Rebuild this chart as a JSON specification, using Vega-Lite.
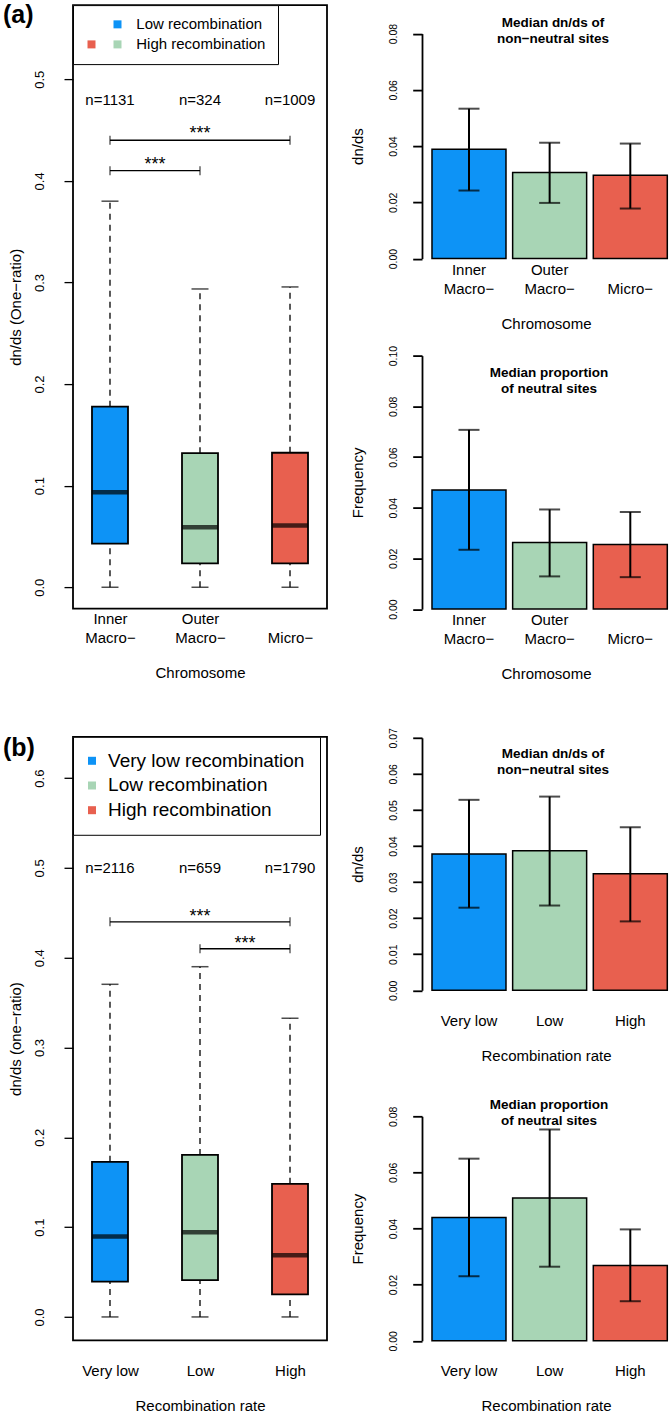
{
  "$schema": "https://vega.github.io/schema/vega-lite/v6.json",
  "autosize": {"type": "pad"},
  "padding": {"left": 2, "top": 1.1, "right": 0, "bottom": 0},
  "background": "white",
  "bounds": "flush",
  "spacing": 731.7,
  "resolve": {"scale": {"fill": "independent"}, "legend": {"fill": "independent"}},
  "config": {
    "font": "Liberation Sans",
    "view": {"stroke": null},
    "axis": {"labelColor": "black", "titleColor": "black", "tickColor": "black", "domainColor": "black", "grid": false, "titleFontWeight": "normal", "labelFont": "Liberation Sans", "titleFont": "Liberation Sans"},
    "title": {"font": "Liberation Sans", "color": "black"},
    "legend": {"labelFont": "Liberation Sans"},
    "text": {"font": "Liberation Sans"}
  },
  "datasets": {
    "boxA": [
      {"grp": "Inner Macro−", "n": 1131, "nlab": "n=1131", "lo": 0, "q1": 0.043, "med": 0.0936, "q3": 0.1777, "hi": 0.38},
      {"grp": "Outer Macro−", "n": 324, "nlab": "n=324", "lo": 0, "q1": 0.0236, "med": 0.0591, "q3": 0.132, "hi": 0.2936},
      {"grp": "Micro−", "n": 1009, "nlab": "n=1009", "lo": 0, "q1": 0.0236, "med": 0.0608, "q3": 0.1324, "hi": 0.2956}
    ],
    "boxB": [
      {"grp": "Very low", "n": 2116, "nlab": "n=2116", "lo": 0, "q1": 0.0393, "med": 0.0897, "q3": 0.1727, "hi": 0.3704},
      {"grp": "Low", "n": 659, "nlab": "n=659", "lo": 0, "q1": 0.0411, "med": 0.0944, "q3": 0.1804, "hi": 0.39},
      {"grp": "High", "n": 1790, "nlab": "n=1790", "lo": 0, "q1": 0.0252, "med": 0.0686, "q3": 0.1482, "hi": 0.3326}
    ],
    "barA1": [
      {"grp": "Inner Macro−", "val": 0.0389, "lo": 0.0242, "hi": 0.0533},
      {"grp": "Outer Macro−", "val": 0.0306, "lo": 0.0198, "hi": 0.0412},
      {"grp": "Micro−", "val": 0.0296, "lo": 0.0178, "hi": 0.0409}
    ],
    "barA2": [
      {"grp": "Inner Macro−", "val": 0.047, "lo": 0.0234, "hi": 0.0707},
      {"grp": "Outer Macro−", "val": 0.0263, "lo": 0.0129, "hi": 0.0393},
      {"grp": "Micro−", "val": 0.0255, "lo": 0.0126, "hi": 0.0383}
    ],
    "barB1": [
      {"grp": "Very low", "val": 0.0378, "lo": 0.0229, "hi": 0.0528},
      {"grp": "Low", "val": 0.0387, "lo": 0.0235, "hi": 0.0537},
      {"grp": "High", "val": 0.0323, "lo": 0.0191, "hi": 0.0452}
    ],
    "barB2": [
      {"grp": "Very low", "val": 0.0439, "lo": 0.023, "hi": 0.0649},
      {"grp": "Low", "val": 0.0509, "lo": 0.0264, "hi": 0.0753},
      {"grp": "High", "val": 0.0268, "lo": 0.0141, "hi": 0.0397}
    ]
  },
  "vconcat": [
    {
      "bounds": "flush",
      "spacing": 95,
      "resolve": {"scale": {"fill": "independent"}, "legend": {"fill": "independent"}},
      "hconcat": [
        {
          "width": 254, "height": 603.5,
          "view": {"stroke": "black", "strokeWidth": 1.8},
          "title": {"text": "(a)", "anchor": "start", "frame": "group", "orient": "top", "fontSize": 25, "fontWeight": "bold", "baseline": "alphabetic", "dx": -70, "offset": -43, "color": "black"},
          "data": {"name": "boxA"},
          "encoding": {
            "x": {"field": "grp", "type": "nominal", "sort": null, "title": "Chromosome",
              "scale": {"type": "point", "domain": ["Inner Macro−", "Outer Macro−", "Micro−"], "padding": 0.411},
              "axis": {"domain": false, "ticks": false, "tickSize": 0, "labelAngle": 0, "labelPadding": 2.5, "labelFontSize": 15, "labelLineHeight": 19.4, "labelBaseline": "top", "labelAlign": "center", "labelExpr": "indexof(datum.value, ' Macro') > 0 ? split(datum.value, ' ') : ['', datum.value]", "titlePadding": 20, "titleFontSize": 15}}
          },
          "layer": [
            {"mark": {"type": "rule", "color": "black", "strokeWidth": 1.3, "strokeDash": [6, 5]},
             "encoding": {"y": {"field": "q3", "type": "quantitative", "title": "dn/ds (One−ratio)", "scale": {"domain": [-0.021, 0.573], "nice": false, "zero": false},
               "axis": {"values": [0, 0.1, 0.2, 0.3, 0.4, 0.5], "format": ".1f", "domain": false, "tickSize": 9, "tickWidth": 1.3, "labelAngle": -90, "labelAlign": "center", "labelBaseline": "bottom", "labelPadding": 18, "labelFontSize": 13, "labelOverlap": false, "titleFontSize": 15, "titlePadding": 10}},
               "y2": {"field": "hi"}}},
            {"mark": {"type": "rule", "color": "black", "strokeWidth": 1.3, "strokeDash": [6, 5]},
             "encoding": {"y": {"field": "lo", "type": "quantitative", "title": "dn/ds (One−ratio)", "scale": {"domain": [-0.021, 0.573], "nice": false, "zero": false},
               "axis": {"values": [0, 0.1, 0.2, 0.3, 0.4, 0.5], "format": ".1f", "domain": false, "tickSize": 9, "tickWidth": 1.3, "labelAngle": -90, "labelAlign": "center", "labelBaseline": "bottom", "labelPadding": 18, "labelFontSize": 13, "labelOverlap": false, "titleFontSize": 15, "titlePadding": 10}},
               "y2": {"field": "q1"}}},
            {"mark": {"type": "tick", "color": "black", "size": 17, "thickness": 1.5},
             "encoding": {"y": {"field": "hi", "type": "quantitative", "title": "dn/ds (One−ratio)", "scale": {"domain": [-0.021, 0.573], "nice": false, "zero": false},
               "axis": {"values": [0, 0.1, 0.2, 0.3, 0.4, 0.5], "format": ".1f", "domain": false, "tickSize": 9, "tickWidth": 1.3, "labelAngle": -90, "labelAlign": "center", "labelBaseline": "bottom", "labelPadding": 18, "labelFontSize": 13, "labelOverlap": false, "titleFontSize": 15, "titlePadding": 10}}}},
            {"mark": {"type": "tick", "color": "black", "size": 17, "thickness": 1.5},
             "encoding": {"y": {"field": "lo", "type": "quantitative", "title": "dn/ds (One−ratio)", "scale": {"domain": [-0.021, 0.573], "nice": false, "zero": false},
               "axis": {"values": [0, 0.1, 0.2, 0.3, 0.4, 0.5], "format": ".1f", "domain": false, "tickSize": 9, "tickWidth": 1.3, "labelAngle": -90, "labelAlign": "center", "labelBaseline": "bottom", "labelPadding": 18, "labelFontSize": 13, "labelOverlap": false, "titleFontSize": 15, "titlePadding": 10}}}},
            {"mark": {"type": "bar", "width": 36, "stroke": "black", "strokeWidth": 1.8},
             "encoding": {
               "y": {"field": "q1", "type": "quantitative", "title": "dn/ds (One−ratio)", "scale": {"domain": [-0.021, 0.573], "nice": false, "zero": false},
                 "axis": {"values": [0, 0.1, 0.2, 0.3, 0.4, 0.5], "format": ".1f", "domain": false, "tickSize": 9, "tickWidth": 1.3, "labelAngle": -90, "labelAlign": "center", "labelBaseline": "bottom", "labelPadding": 18, "labelFontSize": 13, "labelOverlap": false, "titleFontSize": 15, "titlePadding": 10}},
               "y2": {"field": "q3"},
               "fill": {"field": "grp", "type": "nominal",
                 "scale": {"domain": ["Inner Macro−", "Outer Macro−", "Micro−", "blank"], "range": ["#0D93F6", "#A8D5B5", "#E8604F", "rgba(0,0,0,0)"]},
                 "legend": {"orient": "top-left", "offset": 0, "title": null, "columns": 2,
                   "values": ["blank", "Micro−", "Inner Macro−", "Outer Macro−"],
                   "labelExpr": "datum.value == 'Inner Macro−' ? 'Low recombination' : (datum.value == 'Outer Macro−' ? 'High recombination' : '')",
                   "labelFontSize": 15, "labelColor": "black", "labelOffset": 11.3, "labelLimit": 0,
                   "symbolType": "square", "symbolSize": 64, "symbolStrokeWidth": 0, "symbolOpacity": 1, "symbolOffset": -0.5,
                   "columnPadding": -23.8, "padding": 11.5, "rowPadding": 4.3, "strokeColor": "black", "fillColor": "white", "cornerRadius": 0}}}},
            {"mark": {"type": "tick", "color": "black", "size": 36, "thickness": 4.5},
             "encoding": {"y": {"field": "med", "type": "quantitative", "title": "dn/ds (One−ratio)", "scale": {"domain": [-0.021, 0.573], "nice": false, "zero": false},
               "axis": {"values": [0, 0.1, 0.2, 0.3, 0.4, 0.5], "format": ".1f", "domain": false, "tickSize": 9, "tickWidth": 1.3, "labelAngle": -90, "labelAlign": "center", "labelBaseline": "bottom", "labelPadding": 18, "labelFontSize": 13, "labelOverlap": false, "titleFontSize": 15, "titlePadding": 10}}}},
            {"mark": {"type": "text", "fontSize": 15, "color": "black", "align": "center", "baseline": "middle"},
             "encoding": {"y": {"datum": 0.48, "type": "quantitative", "title": "dn/ds (One−ratio)", "scale": {"domain": [-0.021, 0.573], "nice": false, "zero": false},
               "axis": {"values": [0, 0.1, 0.2, 0.3, 0.4, 0.5], "format": ".1f", "domain": false, "tickSize": 9, "tickWidth": 1.3, "labelAngle": -90, "labelAlign": "center", "labelBaseline": "bottom", "labelPadding": 18, "labelFontSize": 13, "labelOverlap": false, "titleFontSize": 15, "titlePadding": 10}},
               "text": {"field": "nlab"}}},
            {"data": {"values": [{"from": "Inner Macro−", "to": "Micro−", "mid": "Outer Macro−", "stars": "***"}]},
             "encoding": {"y": {"datum": 0.44, "type": "quantitative", "title": "dn/ds (One−ratio)", "scale": {"domain": [-0.021, 0.573], "nice": false, "zero": false},
               "axis": {"values": [0, 0.1, 0.2, 0.3, 0.4, 0.5], "format": ".1f", "domain": false, "tickSize": 9, "tickWidth": 1.3, "labelAngle": -90, "labelAlign": "center", "labelBaseline": "bottom", "labelPadding": 18, "labelFontSize": 13, "labelOverlap": false, "titleFontSize": 15, "titlePadding": 10}}},
             "layer": [
               {"mark": {"type": "rule", "color": "black", "strokeWidth": 1.3},
                "encoding": {"x": {"field": "from", "type": "nominal", "title": "Chromosome", "axis": {"domain": false, "ticks": false, "tickSize": 0, "labelAngle": 0, "labelPadding": 2.5, "labelFontSize": 15, "labelLineHeight": 19.4, "labelBaseline": "top", "labelAlign": "center", "labelExpr": "indexof(datum.value, ' Macro') > 0 ? split(datum.value, ' ') : ['', datum.value]", "titlePadding": 20, "titleFontSize": 15}}, "x2": {"field": "to"}}},
               {"mark": {"type": "tick", "orient": "vertical", "color": "black", "size": 9, "thickness": 1.3},
                "encoding": {"x": {"field": "from", "type": "nominal", "title": "Chromosome", "axis": {"domain": false, "ticks": false, "tickSize": 0, "labelAngle": 0, "labelPadding": 2.5, "labelFontSize": 15, "labelLineHeight": 19.4, "labelBaseline": "top", "labelAlign": "center", "labelExpr": "indexof(datum.value, ' Macro') > 0 ? split(datum.value, ' ') : ['', datum.value]", "titlePadding": 20, "titleFontSize": 15}}}},
               {"mark": {"type": "tick", "orient": "vertical", "color": "black", "size": 9, "thickness": 1.3},
                "encoding": {"x": {"field": "to", "type": "nominal", "title": "Chromosome", "axis": {"domain": false, "ticks": false, "tickSize": 0, "labelAngle": 0, "labelPadding": 2.5, "labelFontSize": 15, "labelLineHeight": 19.4, "labelBaseline": "top", "labelAlign": "center", "labelExpr": "indexof(datum.value, ' Macro') > 0 ? split(datum.value, ' ') : ['', datum.value]", "titlePadding": 20, "titleFontSize": 15}}}},
               {"mark": {"type": "text", "fontSize": 18, "color": "black", "align": "center", "baseline": "alphabetic", "dy": -1},
                "encoding": {"x": {"field": "mid", "type": "nominal", "title": "Chromosome", "axis": {"domain": false, "ticks": false, "tickSize": 0, "labelAngle": 0, "labelPadding": 2.5, "labelFontSize": 15, "labelLineHeight": 19.4, "labelBaseline": "top", "labelAlign": "center", "labelExpr": "indexof(datum.value, ' Macro') > 0 ? split(datum.value, ' ') : ['', datum.value]", "titlePadding": 20, "titleFontSize": 15}}, "text": {"field": "stars"}}}
             ]},
            {"data": {"values": [{"from": "Inner Macro−", "to": "Outer Macro−", "stars": "***"}]},
             "encoding": {"y": {"datum": 0.41, "type": "quantitative", "title": "dn/ds (One−ratio)", "scale": {"domain": [-0.021, 0.573], "nice": false, "zero": false},
               "axis": {"values": [0, 0.1, 0.2, 0.3, 0.4, 0.5], "format": ".1f", "domain": false, "tickSize": 9, "tickWidth": 1.3, "labelAngle": -90, "labelAlign": "center", "labelBaseline": "bottom", "labelPadding": 18, "labelFontSize": 13, "labelOverlap": false, "titleFontSize": 15, "titlePadding": 10}}},
             "layer": [
               {"mark": {"type": "rule", "color": "black", "strokeWidth": 1.3},
                "encoding": {"x": {"field": "from", "type": "nominal", "title": "Chromosome", "axis": {"domain": false, "ticks": false, "tickSize": 0, "labelAngle": 0, "labelPadding": 2.5, "labelFontSize": 15, "labelLineHeight": 19.4, "labelBaseline": "top", "labelAlign": "center", "labelExpr": "indexof(datum.value, ' Macro') > 0 ? split(datum.value, ' ') : ['', datum.value]", "titlePadding": 20, "titleFontSize": 15}}, "x2": {"field": "to"}}},
               {"mark": {"type": "tick", "orient": "vertical", "color": "black", "size": 9, "thickness": 1.3},
                "encoding": {"x": {"field": "from", "type": "nominal", "title": "Chromosome", "axis": {"domain": false, "ticks": false, "tickSize": 0, "labelAngle": 0, "labelPadding": 2.5, "labelFontSize": 15, "labelLineHeight": 19.4, "labelBaseline": "top", "labelAlign": "center", "labelExpr": "indexof(datum.value, ' Macro') > 0 ? split(datum.value, ' ') : ['', datum.value]", "titlePadding": 20, "titleFontSize": 15}}}},
               {"mark": {"type": "tick", "orient": "vertical", "color": "black", "size": 9, "thickness": 1.3},
                "encoding": {"x": {"field": "to", "type": "nominal", "title": "Chromosome", "axis": {"domain": false, "ticks": false, "tickSize": 0, "labelAngle": 0, "labelPadding": 2.5, "labelFontSize": 15, "labelLineHeight": 19.4, "labelBaseline": "top", "labelAlign": "center", "labelExpr": "indexof(datum.value, ' Macro') > 0 ? split(datum.value, ' ') : ['', datum.value]", "titlePadding": 20, "titleFontSize": 15}}}},
               {"mark": {"type": "text", "fontSize": 18, "color": "black", "align": "center", "baseline": "alphabetic", "dy": -1, "dx": 45},
                "encoding": {"x": {"field": "from", "type": "nominal", "title": "Chromosome", "axis": {"domain": false, "ticks": false, "tickSize": 0, "labelAngle": 0, "labelPadding": 2.5, "labelFontSize": 15, "labelLineHeight": 19.4, "labelBaseline": "top", "labelAlign": "center", "labelExpr": "indexof(datum.value, ' Macro') > 0 ? split(datum.value, ' ') : ['', datum.value]", "titlePadding": 20, "titleFontSize": 15}}, "text": {"field": "stars"}}}
             ]}
          ]
        },
        {
          "bounds": "flush",
          "spacing": 96.5,
          "resolve": {"scale": {"fill": "independent"}, "legend": {"fill": "independent"}},
          "vconcat": [
            {
              "width": 248, "height": 253.5,
              "title": {"text": ["Median dn/ds of", "non−neutral sites"], "frame": "group", "anchor": "middle", "orient": "top", "fontSize": 13.5, "fontWeight": "bold", "lineHeight": 16, "baseline": "top", "offset": -40.3, "dx": 7, "color": "black"},
              "data": {"name": "barA1"},
              "encoding": {
                "x": {"field": "grp", "type": "nominal", "sort": null, "title": "Chromosome",
                  "scale": {"type": "band", "domain": ["Inner Macro−", "Outer Macro−", "Micro−"], "paddingInner": 0.0825, "paddingOuter": 0.0787, "align": 0.787},
                  "axis": {"domain": false, "ticks": false, "tickSize": 0, "labelAngle": 0, "labelPadding": 3.5, "labelFontSize": 15, "labelLineHeight": 19.4, "labelBaseline": "top", "labelAlign": "center", "labelExpr": "indexof(datum.value, ' Macro') > 0 ? split(datum.value, ' ') : ['', datum.value]", "titlePadding": 20, "titleFontSize": 15}}
              },
              "layer": [
                {"mark": {"type": "bar", "stroke": "black", "strokeWidth": 1.5},
                 "encoding": {
                   "y": {"field": "val", "type": "quantitative", "title": "dn/ds", "scale": {"domain": [0, 0.08], "range": [253.5, 28.5], "nice": false},
                     "axis": {"values": [0, 0.02, 0.04, 0.06, 0.08], "format": ".2f", "domain": true, "domainWidth": 1.8, "tickSize": 9.3, "tickWidth": 1.8, "labelAngle": -90, "labelAlign": "center", "labelBaseline": "bottom", "labelPadding": 14, "labelFontSize": 10.5, "labelOverlap": false, "titleFontSize": 15, "titlePadding": 23}},
                   "fill": {"field": "grp", "type": "nominal", "scale": {"domain": ["Inner Macro−", "Outer Macro−", "Micro−"], "range": ["#0D93F6", "#A8D5B5", "#E8604F"]}, "legend": null}}},
                {"mark": {"type": "rule", "color": "black", "strokeWidth": 2},
                 "encoding": {"y": {"field": "lo", "type": "quantitative", "title": "dn/ds", "scale": {"domain": [0, 0.08], "range": [253.5, 28.5], "nice": false},
                     "axis": {"values": [0, 0.02, 0.04, 0.06, 0.08], "format": ".2f", "domain": true, "domainWidth": 1.8, "tickSize": 9.3, "tickWidth": 1.8, "labelAngle": -90, "labelAlign": "center", "labelBaseline": "bottom", "labelPadding": 14, "labelFontSize": 10.5, "labelOverlap": false, "titleFontSize": 15, "titlePadding": 23}}, "y2": {"field": "hi"}}},
                {"mark": {"type": "tick", "color": "black", "size": 21, "thickness": 2},
                 "encoding": {"y": {"field": "lo", "type": "quantitative", "title": "dn/ds", "scale": {"domain": [0, 0.08], "range": [253.5, 28.5], "nice": false},
                     "axis": {"values": [0, 0.02, 0.04, 0.06, 0.08], "format": ".2f", "domain": true, "domainWidth": 1.8, "tickSize": 9.3, "tickWidth": 1.8, "labelAngle": -90, "labelAlign": "center", "labelBaseline": "bottom", "labelPadding": 14, "labelFontSize": 10.5, "labelOverlap": false, "titleFontSize": 15, "titlePadding": 23}}}},
                {"mark": {"type": "tick", "color": "black", "size": 21, "thickness": 2},
                 "encoding": {"y": {"field": "hi", "type": "quantitative", "title": "dn/ds", "scale": {"domain": [0, 0.08], "range": [253.5, 28.5], "nice": false},
                     "axis": {"values": [0, 0.02, 0.04, 0.06, 0.08], "format": ".2f", "domain": true, "domainWidth": 1.8, "tickSize": 9.3, "tickWidth": 1.8, "labelAngle": -90, "labelAlign": "center", "labelBaseline": "bottom", "labelPadding": 14, "labelFontSize": 10.5, "labelOverlap": false, "titleFontSize": 15, "titlePadding": 23}}}}
              ]
            },
            {
              "width": 248, "height": 253.5,
              "title": {"text": ["Median proportion", "of neutral sites"], "frame": "group", "anchor": "middle", "orient": "top", "fontSize": 13.5, "fontWeight": "bold", "lineHeight": 16, "baseline": "top", "offset": -50, "dx": 3, "color": "black"},
              "data": {"name": "barA2"},
              "encoding": {
                "x": {"field": "grp", "type": "nominal", "sort": null, "title": "Chromosome",
                  "scale": {"type": "band", "domain": ["Inner Macro−", "Outer Macro−", "Micro−"], "paddingInner": 0.0825, "paddingOuter": 0.0787, "align": 0.787},
                  "axis": {"domain": false, "ticks": false, "tickSize": 0, "labelAngle": 0, "labelPadding": 3.5, "labelFontSize": 15, "labelLineHeight": 19.4, "labelBaseline": "top", "labelAlign": "center", "labelExpr": "indexof(datum.value, ' Macro') > 0 ? split(datum.value, ' ') : ['', datum.value]", "titlePadding": 20, "titleFontSize": 15}}
              },
              "layer": [
                {"mark": {"type": "bar", "stroke": "black", "strokeWidth": 1.5},
                 "encoding": {
                   "y": {"field": "val", "type": "quantitative", "title": "Frequency", "scale": {"domain": [0, 0.1], "range": [253.5, 0], "nice": false},
                     "axis": {"values": [0, 0.02, 0.04, 0.06, 0.08, 0.1], "format": ".2f", "domain": true, "domainWidth": 1.8, "tickSize": 9.3, "tickWidth": 1.8, "labelAngle": -90, "labelAlign": "center", "labelBaseline": "bottom", "labelPadding": 14, "labelFontSize": 10.5, "labelOverlap": false, "titleFontSize": 15, "titlePadding": 23}},
                   "fill": {"field": "grp", "type": "nominal", "scale": {"domain": ["Inner Macro−", "Outer Macro−", "Micro−"], "range": ["#0D93F6", "#A8D5B5", "#E8604F"]}, "legend": null}}},
                {"mark": {"type": "rule", "color": "black", "strokeWidth": 2},
                 "encoding": {"y": {"field": "lo", "type": "quantitative", "title": "Frequency", "scale": {"domain": [0, 0.1], "range": [253.5, 0], "nice": false},
                     "axis": {"values": [0, 0.02, 0.04, 0.06, 0.08, 0.1], "format": ".2f", "domain": true, "domainWidth": 1.8, "tickSize": 9.3, "tickWidth": 1.8, "labelAngle": -90, "labelAlign": "center", "labelBaseline": "bottom", "labelPadding": 14, "labelFontSize": 10.5, "labelOverlap": false, "titleFontSize": 15, "titlePadding": 23}}, "y2": {"field": "hi"}}},
                {"mark": {"type": "tick", "color": "black", "size": 21, "thickness": 2},
                 "encoding": {"y": {"field": "lo", "type": "quantitative", "title": "Frequency", "scale": {"domain": [0, 0.1], "range": [253.5, 0], "nice": false},
                     "axis": {"values": [0, 0.02, 0.04, 0.06, 0.08, 0.1], "format": ".2f", "domain": true, "domainWidth": 1.8, "tickSize": 9.3, "tickWidth": 1.8, "labelAngle": -90, "labelAlign": "center", "labelBaseline": "bottom", "labelPadding": 14, "labelFontSize": 10.5, "labelOverlap": false, "titleFontSize": 15, "titlePadding": 23}}}},
                {"mark": {"type": "tick", "color": "black", "size": 21, "thickness": 2},
                 "encoding": {"y": {"field": "hi", "type": "quantitative", "title": "Frequency", "scale": {"domain": [0, 0.1], "range": [253.5, 0], "nice": false},
                     "axis": {"values": [0, 0.02, 0.04, 0.06, 0.08, 0.1], "format": ".2f", "domain": true, "domainWidth": 1.8, "tickSize": 9.3, "tickWidth": 1.8, "labelAngle": -90, "labelAlign": "center", "labelBaseline": "bottom", "labelPadding": 14, "labelFontSize": 10.5, "labelOverlap": false, "titleFontSize": 15, "titlePadding": 23}}}}
              ]
            }
          ]
        }
      ]
    },
    {
      "bounds": "flush",
      "spacing": 95,
      "resolve": {"scale": {"fill": "independent"}, "legend": {"fill": "independent"}},
      "hconcat": [
        {
          "width": 254, "height": 603.5,
          "view": {"stroke": "black", "strokeWidth": 1.8},
          "title": {"text": "(b)", "anchor": "start", "frame": "group", "orient": "top", "fontSize": 25, "fontWeight": "bold", "baseline": "alphabetic", "dx": -70, "offset": -45, "color": "black"},
          "data": {"name": "boxB"},
          "encoding": {
            "x": {"field": "grp", "type": "nominal", "sort": null, "title": "Recombination rate",
              "scale": {"type": "point", "domain": ["Very low", "Low", "High"], "padding": 0.411},
              "axis": {"domain": false, "ticks": false, "tickSize": 0, "labelAngle": 0, "labelPadding": 3.5, "labelFontSize": 15, "labelLineHeight": 19.4, "labelBaseline": "top", "labelAlign": "center", "labelExpr": "indexof(datum.value, ' Macro') > 0 ? split(datum.value, ' ') : ['', datum.value]", "titlePadding": 20, "titleFontSize": 15}}
          },
          "layer": [
            {"mark": {"type": "rule", "color": "black", "strokeWidth": 1.3, "strokeDash": [6, 5]},
             "encoding": {"y": {"field": "q3", "type": "quantitative", "title": "dn/ds (one−ratio)", "scale": {"domain": [-0.026, 0.646], "nice": false, "zero": false},
               "axis": {"values": [0, 0.1, 0.2, 0.3, 0.4, 0.5, 0.6], "format": ".1f", "domain": false, "tickSize": 9, "tickWidth": 1.3, "labelAngle": -90, "labelAlign": "center", "labelBaseline": "bottom", "labelPadding": 18, "labelFontSize": 13, "labelOverlap": false, "titleFontSize": 15, "titlePadding": 10}},
               "y2": {"field": "hi"}}},
            {"mark": {"type": "rule", "color": "black", "strokeWidth": 1.3, "strokeDash": [6, 5]},
             "encoding": {"y": {"field": "lo", "type": "quantitative", "title": "dn/ds (one−ratio)", "scale": {"domain": [-0.026, 0.646], "nice": false, "zero": false},
               "axis": {"values": [0, 0.1, 0.2, 0.3, 0.4, 0.5, 0.6], "format": ".1f", "domain": false, "tickSize": 9, "tickWidth": 1.3, "labelAngle": -90, "labelAlign": "center", "labelBaseline": "bottom", "labelPadding": 18, "labelFontSize": 13, "labelOverlap": false, "titleFontSize": 15, "titlePadding": 10}},
               "y2": {"field": "q1"}}},
            {"mark": {"type": "tick", "color": "black", "size": 17, "thickness": 1.5},
             "encoding": {"y": {"field": "hi", "type": "quantitative", "title": "dn/ds (one−ratio)", "scale": {"domain": [-0.026, 0.646], "nice": false, "zero": false},
               "axis": {"values": [0, 0.1, 0.2, 0.3, 0.4, 0.5, 0.6], "format": ".1f", "domain": false, "tickSize": 9, "tickWidth": 1.3, "labelAngle": -90, "labelAlign": "center", "labelBaseline": "bottom", "labelPadding": 18, "labelFontSize": 13, "labelOverlap": false, "titleFontSize": 15, "titlePadding": 10}}}},
            {"mark": {"type": "tick", "color": "black", "size": 17, "thickness": 1.5},
             "encoding": {"y": {"field": "lo", "type": "quantitative", "title": "dn/ds (one−ratio)", "scale": {"domain": [-0.026, 0.646], "nice": false, "zero": false},
               "axis": {"values": [0, 0.1, 0.2, 0.3, 0.4, 0.5, 0.6], "format": ".1f", "domain": false, "tickSize": 9, "tickWidth": 1.3, "labelAngle": -90, "labelAlign": "center", "labelBaseline": "bottom", "labelPadding": 18, "labelFontSize": 13, "labelOverlap": false, "titleFontSize": 15, "titlePadding": 10}}}},
            {"mark": {"type": "bar", "width": 36, "stroke": "black", "strokeWidth": 1.8},
             "encoding": {
               "y": {"field": "q1", "type": "quantitative", "title": "dn/ds (one−ratio)", "scale": {"domain": [-0.026, 0.646], "nice": false, "zero": false},
                 "axis": {"values": [0, 0.1, 0.2, 0.3, 0.4, 0.5, 0.6], "format": ".1f", "domain": false, "tickSize": 9, "tickWidth": 1.3, "labelAngle": -90, "labelAlign": "center", "labelBaseline": "bottom", "labelPadding": 18, "labelFontSize": 13, "labelOverlap": false, "titleFontSize": 15, "titlePadding": 10}},
               "y2": {"field": "q3"},
               "fill": {"field": "grp", "type": "nominal",
                 "scale": {"domain": ["Very low", "Low", "High"], "range": ["#0D93F6", "#A8D5B5", "#E8604F"]},
                 "legend": {"orient": "top-left", "offset": 0, "title": null,
                   "labelExpr": "datum.value + ' recombination'",
                   "labelFontSize": 19, "labelColor": "black", "labelOffset": 6.6, "labelLimit": 0,
                   "symbolType": "square", "symbolSize": 64, "symbolStrokeWidth": 0, "symbolOpacity": 1, "symbolOffset": -5,
                   "padding": 14.5, "rowPadding": 4.7, "strokeColor": "black", "fillColor": "white", "cornerRadius": 0}}}},
            {"mark": {"type": "tick", "color": "black", "size": 36, "thickness": 4.5},
             "encoding": {"y": {"field": "med", "type": "quantitative", "title": "dn/ds (one−ratio)", "scale": {"domain": [-0.026, 0.646], "nice": false, "zero": false},
               "axis": {"values": [0, 0.1, 0.2, 0.3, 0.4, 0.5, 0.6], "format": ".1f", "domain": false, "tickSize": 9, "tickWidth": 1.3, "labelAngle": -90, "labelAlign": "center", "labelBaseline": "bottom", "labelPadding": 18, "labelFontSize": 13, "labelOverlap": false, "titleFontSize": 15, "titlePadding": 10}}}},
            {"mark": {"type": "text", "fontSize": 15, "color": "black", "align": "center", "baseline": "middle"},
             "encoding": {"y": {"datum": 0.5, "type": "quantitative", "title": "dn/ds (one−ratio)", "scale": {"domain": [-0.026, 0.646], "nice": false, "zero": false},
               "axis": {"values": [0, 0.1, 0.2, 0.3, 0.4, 0.5, 0.6], "format": ".1f", "domain": false, "tickSize": 9, "tickWidth": 1.3, "labelAngle": -90, "labelAlign": "center", "labelBaseline": "bottom", "labelPadding": 18, "labelFontSize": 13, "labelOverlap": false, "titleFontSize": 15, "titlePadding": 10}},
               "text": {"field": "nlab"}}},
            {"data": {"values": [{"from": "Very low", "to": "High", "mid": "Low", "stars": "***"}]},
             "encoding": {"y": {"datum": 0.44, "type": "quantitative", "title": "dn/ds (one−ratio)", "scale": {"domain": [-0.026, 0.646], "nice": false, "zero": false},
               "axis": {"values": [0, 0.1, 0.2, 0.3, 0.4, 0.5, 0.6], "format": ".1f", "domain": false, "tickSize": 9, "tickWidth": 1.3, "labelAngle": -90, "labelAlign": "center", "labelBaseline": "bottom", "labelPadding": 18, "labelFontSize": 13, "labelOverlap": false, "titleFontSize": 15, "titlePadding": 10}}},
             "layer": [
               {"mark": {"type": "rule", "color": "black", "strokeWidth": 1.3},
                "encoding": {"x": {"field": "from", "type": "nominal", "title": "Recombination rate", "axis": {"domain": false, "ticks": false, "tickSize": 0, "labelAngle": 0, "labelPadding": 3.5, "labelFontSize": 15, "labelLineHeight": 19.4, "labelBaseline": "top", "labelAlign": "center", "labelExpr": "indexof(datum.value, ' Macro') > 0 ? split(datum.value, ' ') : ['', datum.value]", "titlePadding": 20, "titleFontSize": 15}}, "x2": {"field": "to"}}},
               {"mark": {"type": "tick", "orient": "vertical", "color": "black", "size": 9, "thickness": 1.3},
                "encoding": {"x": {"field": "from", "type": "nominal", "title": "Recombination rate", "axis": {"domain": false, "ticks": false, "tickSize": 0, "labelAngle": 0, "labelPadding": 3.5, "labelFontSize": 15, "labelLineHeight": 19.4, "labelBaseline": "top", "labelAlign": "center", "labelExpr": "indexof(datum.value, ' Macro') > 0 ? split(datum.value, ' ') : ['', datum.value]", "titlePadding": 20, "titleFontSize": 15}}}},
               {"mark": {"type": "tick", "orient": "vertical", "color": "black", "size": 9, "thickness": 1.3},
                "encoding": {"x": {"field": "to", "type": "nominal", "title": "Recombination rate", "axis": {"domain": false, "ticks": false, "tickSize": 0, "labelAngle": 0, "labelPadding": 3.5, "labelFontSize": 15, "labelLineHeight": 19.4, "labelBaseline": "top", "labelAlign": "center", "labelExpr": "indexof(datum.value, ' Macro') > 0 ? split(datum.value, ' ') : ['', datum.value]", "titlePadding": 20, "titleFontSize": 15}}}},
               {"mark": {"type": "text", "fontSize": 18, "color": "black", "align": "center", "baseline": "alphabetic", "dy": 0},
                "encoding": {"x": {"field": "mid", "type": "nominal", "title": "Recombination rate", "axis": {"domain": false, "ticks": false, "tickSize": 0, "labelAngle": 0, "labelPadding": 3.5, "labelFontSize": 15, "labelLineHeight": 19.4, "labelBaseline": "top", "labelAlign": "center", "labelExpr": "indexof(datum.value, ' Macro') > 0 ? split(datum.value, ' ') : ['', datum.value]", "titlePadding": 20, "titleFontSize": 15}}, "text": {"field": "stars"}}}
             ]},
            {"data": {"values": [{"from": "Low", "to": "High", "stars": "***"}]},
             "encoding": {"y": {"datum": 0.41, "type": "quantitative", "title": "dn/ds (one−ratio)", "scale": {"domain": [-0.026, 0.646], "nice": false, "zero": false},
               "axis": {"values": [0, 0.1, 0.2, 0.3, 0.4, 0.5, 0.6], "format": ".1f", "domain": false, "tickSize": 9, "tickWidth": 1.3, "labelAngle": -90, "labelAlign": "center", "labelBaseline": "bottom", "labelPadding": 18, "labelFontSize": 13, "labelOverlap": false, "titleFontSize": 15, "titlePadding": 10}}},
             "layer": [
               {"mark": {"type": "rule", "color": "black", "strokeWidth": 1.3},
                "encoding": {"x": {"field": "from", "type": "nominal", "title": "Recombination rate", "axis": {"domain": false, "ticks": false, "tickSize": 0, "labelAngle": 0, "labelPadding": 3.5, "labelFontSize": 15, "labelLineHeight": 19.4, "labelBaseline": "top", "labelAlign": "center", "labelExpr": "indexof(datum.value, ' Macro') > 0 ? split(datum.value, ' ') : ['', datum.value]", "titlePadding": 20, "titleFontSize": 15}}, "x2": {"field": "to"}}},
               {"mark": {"type": "tick", "orient": "vertical", "color": "black", "size": 9, "thickness": 1.3},
                "encoding": {"x": {"field": "from", "type": "nominal", "title": "Recombination rate", "axis": {"domain": false, "ticks": false, "tickSize": 0, "labelAngle": 0, "labelPadding": 3.5, "labelFontSize": 15, "labelLineHeight": 19.4, "labelBaseline": "top", "labelAlign": "center", "labelExpr": "indexof(datum.value, ' Macro') > 0 ? split(datum.value, ' ') : ['', datum.value]", "titlePadding": 20, "titleFontSize": 15}}}},
               {"mark": {"type": "tick", "orient": "vertical", "color": "black", "size": 9, "thickness": 1.3},
                "encoding": {"x": {"field": "to", "type": "nominal", "title": "Recombination rate", "axis": {"domain": false, "ticks": false, "tickSize": 0, "labelAngle": 0, "labelPadding": 3.5, "labelFontSize": 15, "labelLineHeight": 19.4, "labelBaseline": "top", "labelAlign": "center", "labelExpr": "indexof(datum.value, ' Macro') > 0 ? split(datum.value, ' ') : ['', datum.value]", "titlePadding": 20, "titleFontSize": 15}}}},
               {"mark": {"type": "text", "fontSize": 18, "color": "black", "align": "center", "baseline": "alphabetic", "dy": 0, "dx": 45},
                "encoding": {"x": {"field": "from", "type": "nominal", "title": "Recombination rate", "axis": {"domain": false, "ticks": false, "tickSize": 0, "labelAngle": 0, "labelPadding": 3.5, "labelFontSize": 15, "labelLineHeight": 19.4, "labelBaseline": "top", "labelAlign": "center", "labelExpr": "indexof(datum.value, ' Macro') > 0 ? split(datum.value, ' ') : ['', datum.value]", "titlePadding": 20, "titleFontSize": 15}}, "text": {"field": "stars"}}}
             ]}
          ]
        },
        {
          "bounds": "flush",
          "spacing": 96.5,
          "resolve": {"scale": {"fill": "independent"}, "legend": {"fill": "independent"}},
          "vconcat": [
            {
              "width": 248, "height": 253.5,
              "title": {"text": ["Median dn/ds of", "non−neutral sites"], "frame": "group", "anchor": "middle", "orient": "top", "fontSize": 13.5, "fontWeight": "bold", "lineHeight": 16, "baseline": "top", "offset": -48.5, "dx": 7, "color": "black"},
              "data": {"name": "barB1"},
              "encoding": {
                "x": {"field": "grp", "type": "nominal", "sort": null, "title": "Recombination rate",
                  "scale": {"type": "band", "domain": ["Very low", "Low", "High"], "paddingInner": 0.0825, "paddingOuter": 0.0787, "align": 0.787},
                  "axis": {"domain": false, "ticks": false, "tickSize": 0, "labelAngle": 0, "labelPadding": 3.5, "labelFontSize": 15, "labelLineHeight": 19.4, "labelBaseline": "top", "labelAlign": "center", "labelExpr": "indexof(datum.value, ' Macro') > 0 ? split(datum.value, ' ') : ['', datum.value]", "titlePadding": 20, "titleFontSize": 15}}
              },
              "layer": [
                {"mark": {"type": "bar", "stroke": "black", "strokeWidth": 1.5},
                 "encoding": {
                   "y": {"field": "val", "type": "quantitative", "title": "dn/ds", "scale": {"domain": [0, 0.07], "range": [253.5, 1], "nice": false},
                     "axis": {"values": [0, 0.01, 0.02, 0.03, 0.04, 0.05, 0.06, 0.07], "format": ".2f", "domain": true, "domainWidth": 1.8, "tickSize": 9.3, "tickWidth": 1.8, "labelAngle": -90, "labelAlign": "center", "labelBaseline": "bottom", "labelPadding": 14, "labelFontSize": 10.5, "labelOverlap": false, "titleFontSize": 15, "titlePadding": 23}},
                   "fill": {"field": "grp", "type": "nominal", "scale": {"domain": ["Very low", "Low", "High"], "range": ["#0D93F6", "#A8D5B5", "#E8604F"]}, "legend": null}}},
                {"mark": {"type": "rule", "color": "black", "strokeWidth": 2},
                 "encoding": {"y": {"field": "lo", "type": "quantitative", "title": "dn/ds", "scale": {"domain": [0, 0.07], "range": [253.5, 1], "nice": false},
                     "axis": {"values": [0, 0.01, 0.02, 0.03, 0.04, 0.05, 0.06, 0.07], "format": ".2f", "domain": true, "domainWidth": 1.8, "tickSize": 9.3, "tickWidth": 1.8, "labelAngle": -90, "labelAlign": "center", "labelBaseline": "bottom", "labelPadding": 14, "labelFontSize": 10.5, "labelOverlap": false, "titleFontSize": 15, "titlePadding": 23}}, "y2": {"field": "hi"}}},
                {"mark": {"type": "tick", "color": "black", "size": 21, "thickness": 2},
                 "encoding": {"y": {"field": "lo", "type": "quantitative", "title": "dn/ds", "scale": {"domain": [0, 0.07], "range": [253.5, 1], "nice": false},
                     "axis": {"values": [0, 0.01, 0.02, 0.03, 0.04, 0.05, 0.06, 0.07], "format": ".2f", "domain": true, "domainWidth": 1.8, "tickSize": 9.3, "tickWidth": 1.8, "labelAngle": -90, "labelAlign": "center", "labelBaseline": "bottom", "labelPadding": 14, "labelFontSize": 10.5, "labelOverlap": false, "titleFontSize": 15, "titlePadding": 23}}}},
                {"mark": {"type": "tick", "color": "black", "size": 21, "thickness": 2},
                 "encoding": {"y": {"field": "hi", "type": "quantitative", "title": "dn/ds", "scale": {"domain": [0, 0.07], "range": [253.5, 1], "nice": false},
                     "axis": {"values": [0, 0.01, 0.02, 0.03, 0.04, 0.05, 0.06, 0.07], "format": ".2f", "domain": true, "domainWidth": 1.8, "tickSize": 9.3, "tickWidth": 1.8, "labelAngle": -90, "labelAlign": "center", "labelBaseline": "bottom", "labelPadding": 14, "labelFontSize": 10.5, "labelOverlap": false, "titleFontSize": 15, "titlePadding": 23}}}}
              ]
            },
            {
              "width": 248, "height": 253.5,
              "title": {"text": ["Median proportion", "of neutral sites"], "frame": "group", "anchor": "middle", "orient": "top", "fontSize": 13.5, "fontWeight": "bold", "lineHeight": 16, "baseline": "top", "offset": -40, "dx": 3, "color": "black"},
              "data": {"name": "barB2"},
              "encoding": {
                "x": {"field": "grp", "type": "nominal", "sort": null, "title": "Recombination rate",
                  "scale": {"type": "band", "domain": ["Very low", "Low", "High"], "paddingInner": 0.0825, "paddingOuter": 0.0787, "align": 0.787},
                  "axis": {"domain": false, "ticks": false, "tickSize": 0, "labelAngle": 0, "labelPadding": 3.5, "labelFontSize": 15, "labelLineHeight": 19.4, "labelBaseline": "top", "labelAlign": "center", "labelExpr": "indexof(datum.value, ' Macro') > 0 ? split(datum.value, ' ') : ['', datum.value]", "titlePadding": 20, "titleFontSize": 15}}
              },
              "layer": [
                {"mark": {"type": "bar", "stroke": "black", "strokeWidth": 1.5},
                 "encoding": {
                   "y": {"field": "val", "type": "quantitative", "title": "Frequency", "scale": {"domain": [0, 0.08], "range": [253.5, 29], "nice": false},
                     "axis": {"values": [0, 0.02, 0.04, 0.06, 0.08], "format": ".2f", "domain": true, "domainWidth": 1.8, "tickSize": 9.3, "tickWidth": 1.8, "labelAngle": -90, "labelAlign": "center", "labelBaseline": "bottom", "labelPadding": 14, "labelFontSize": 10.5, "labelOverlap": false, "titleFontSize": 15, "titlePadding": 23}},
                   "fill": {"field": "grp", "type": "nominal", "scale": {"domain": ["Very low", "Low", "High"], "range": ["#0D93F6", "#A8D5B5", "#E8604F"]}, "legend": null}}},
                {"mark": {"type": "rule", "color": "black", "strokeWidth": 2},
                 "encoding": {"y": {"field": "lo", "type": "quantitative", "title": "Frequency", "scale": {"domain": [0, 0.08], "range": [253.5, 29], "nice": false},
                     "axis": {"values": [0, 0.02, 0.04, 0.06, 0.08], "format": ".2f", "domain": true, "domainWidth": 1.8, "tickSize": 9.3, "tickWidth": 1.8, "labelAngle": -90, "labelAlign": "center", "labelBaseline": "bottom", "labelPadding": 14, "labelFontSize": 10.5, "labelOverlap": false, "titleFontSize": 15, "titlePadding": 23}}, "y2": {"field": "hi"}}},
                {"mark": {"type": "tick", "color": "black", "size": 21, "thickness": 2},
                 "encoding": {"y": {"field": "lo", "type": "quantitative", "title": "Frequency", "scale": {"domain": [0, 0.08], "range": [253.5, 29], "nice": false},
                     "axis": {"values": [0, 0.02, 0.04, 0.06, 0.08], "format": ".2f", "domain": true, "domainWidth": 1.8, "tickSize": 9.3, "tickWidth": 1.8, "labelAngle": -90, "labelAlign": "center", "labelBaseline": "bottom", "labelPadding": 14, "labelFontSize": 10.5, "labelOverlap": false, "titleFontSize": 15, "titlePadding": 23}}}},
                {"mark": {"type": "tick", "color": "black", "size": 21, "thickness": 2},
                 "encoding": {"y": {"field": "hi", "type": "quantitative", "title": "Frequency", "scale": {"domain": [0, 0.08], "range": [253.5, 29], "nice": false},
                     "axis": {"values": [0, 0.02, 0.04, 0.06, 0.08], "format": ".2f", "domain": true, "domainWidth": 1.8, "tickSize": 9.3, "tickWidth": 1.8, "labelAngle": -90, "labelAlign": "center", "labelBaseline": "bottom", "labelPadding": 14, "labelFontSize": 10.5, "labelOverlap": false, "titleFontSize": 15, "titlePadding": 23}}}}
              ]
            }
          ]
        }
      ]
    }
  ]
}
